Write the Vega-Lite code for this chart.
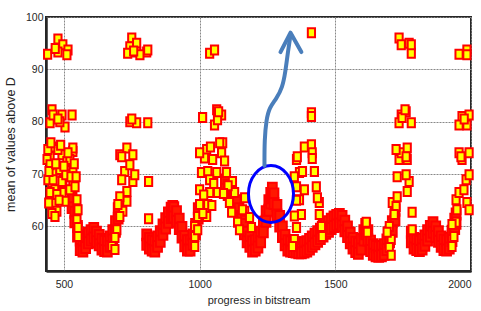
{
"$schema": "https://vega.github.io/schema/vega-lite/v6.json",
"width": 425, "height": 254,
"autosize": {"type": "none"},
"padding": {"left": 46, "top": 17, "right": 10, "bottom": 40},
"background": "white",
"config": {"view": {"stroke": "#262626", "strokeWidth": 2}, "font": "Liberation Sans"},
"layer": [
{"data": {"values": [
{"x":530,"y":65.4},{"x":530,"y":63.6},{"x":540,"y":62.7},{"x":540,"y":60.9},{"x":550,"y":60.0},{"x":550,"y":58.2},{"x":560,"y":57.4},{"x":560,"y":55.6},{"x":570,"y":57.1},{"x":570,"y":55.3},{"x":580,"y":57.8},{"x":580,"y":56.0},{"x":590,"y":58.7},{"x":590,"y":56.9},{"x":600,"y":59.2},{"x":600,"y":57.4},{"x":610,"y":59.6},{"x":610,"y":57.8},{"x":620,"y":58.9},{"x":620,"y":57.1},{"x":630,"y":58.3},{"x":630,"y":56.5},{"x":640,"y":57.5},{"x":640,"y":55.7},{"x":650,"y":57.2},{"x":650,"y":55.4},{"x":660,"y":57.1},{"x":660,"y":55.3},{"x":670,"y":58.0},{"x":670,"y":56.2},{"x":680,"y":59.2},{"x":680,"y":57.4},{"x":690,"y":60.9},{"x":690,"y":59.1},{"x":700,"y":63.4},{"x":700,"y":61.6},
{"x":805,"y":58.4},{"x":805,"y":56.6},{"x":815,"y":57.7},{"x":815,"y":55.9},{"x":825,"y":57.3},{"x":825,"y":55.5},{"x":835,"y":57.1},{"x":835,"y":55.3},{"x":845,"y":58.0},{"x":845,"y":56.2},{"x":855,"y":59.0},{"x":855,"y":57.2},{"x":865,"y":60.3},{"x":865,"y":58.5},{"x":875,"y":61.5},{"x":875,"y":59.7},{"x":885,"y":62.6},{"x":885,"y":60.8},{"x":895,"y":63.5},{"x":895,"y":61.7},{"x":901,"y":63.8},{"x":901,"y":62.0},{"x":905,"y":63.6},{"x":905,"y":61.8},{"x":915,"y":62.8},{"x":915,"y":61.0},{"x":925,"y":61.4},{"x":925,"y":59.6},{"x":935,"y":59.8},{"x":935,"y":58.0},{"x":945,"y":58.1},{"x":945,"y":56.3},{"x":955,"y":57.3},{"x":955,"y":55.5},{"x":965,"y":57.3},{"x":965,"y":55.5},{"x":975,"y":58.4},{"x":975,"y":56.6},{"x":985,"y":60.4},{"x":985,"y":58.6},{"x":995,"y":63.4},{"x":995,"y":61.6},
{"x":1095,"y":68.9},{"x":1095,"y":67.1},{"x":1105,"y":67.9},{"x":1105,"y":66.1},{"x":1115,"y":66.9},{"x":1115,"y":65.1},{"x":1125,"y":65.9},{"x":1125,"y":64.1},{"x":1135,"y":64.9},{"x":1135,"y":63.1},{"x":1145,"y":63.4},{"x":1145,"y":61.6},{"x":1155,"y":61.9},{"x":1155,"y":60.1},{"x":1165,"y":60.4},{"x":1165,"y":58.6},{"x":1175,"y":58.9},{"x":1175,"y":57.1},{"x":1185,"y":58.0},{"x":1185,"y":56.2},{"x":1195,"y":57.1},{"x":1195,"y":55.3},{"x":1205,"y":57.3},{"x":1205,"y":55.5},{"x":1215,"y":57.9},{"x":1215,"y":56.1},{"x":1225,"y":58.9},{"x":1225,"y":57.1},{"x":1235,"y":60.8},{"x":1235,"y":59.0},{"x":1245,"y":62.8},{"x":1245,"y":61.0},{"x":1255,"y":64.9},{"x":1255,"y":63.1},{"x":1262,"y":66.3},{"x":1262,"y":64.5},{"x":1268,"y":67.3},{"x":1268,"y":65.5},{"x":1274,"y":66.2},{"x":1274,"y":64.4},{"x":1285,"y":64.0},{"x":1285,"y":62.2},{"x":1295,"y":61.9},{"x":1295,"y":60.1},{"x":1305,"y":59.9},{"x":1305,"y":58.1},{"x":1315,"y":58.3},{"x":1315,"y":56.5},{"x":1325,"y":57.3},{"x":1325,"y":55.5},
{"x":1335,"y":57.1},{"x":1335,"y":55.3},{"x":1345,"y":57.0},{"x":1345,"y":55.2},{"x":1355,"y":56.9},{"x":1355,"y":55.1},{"x":1365,"y":56.8},{"x":1365,"y":55.0},{"x":1375,"y":56.8},{"x":1375,"y":55.0},{"x":1385,"y":56.9},{"x":1385,"y":55.1},{"x":1395,"y":57.1},{"x":1395,"y":55.3},{"x":1405,"y":57.5},{"x":1405,"y":55.7},{"x":1415,"y":58.0},{"x":1415,"y":56.2},{"x":1425,"y":58.5},{"x":1425,"y":56.7},{"x":1435,"y":59.0},{"x":1435,"y":57.2},{"x":1445,"y":59.5},{"x":1445,"y":57.7},{"x":1455,"y":60.0},{"x":1455,"y":58.2},{"x":1465,"y":60.5},{"x":1465,"y":58.7},{"x":1475,"y":60.9},{"x":1475,"y":59.1},{"x":1485,"y":61.4},{"x":1485,"y":59.6},{"x":1495,"y":61.8},{"x":1495,"y":60.0},{"x":1505,"y":62.1},{"x":1505,"y":60.3},{"x":1515,"y":62.3},{"x":1515,"y":60.5},{"x":1525,"y":61.9},{"x":1525,"y":60.1},{"x":1535,"y":61.0},{"x":1535,"y":59.2},{"x":1545,"y":59.9},{"x":1545,"y":58.1},{"x":1555,"y":58.7},{"x":1555,"y":56.9},{"x":1565,"y":57.7},{"x":1565,"y":55.9},{"x":1575,"y":57.0},{"x":1575,"y":55.2},{"x":1585,"y":56.7},{"x":1585,"y":54.9},{"x":1595,"y":57.5},{"x":1595,"y":55.7},{"x":1605,"y":59.2},{"x":1605,"y":57.4},{"x":1612,"y":60.4},{"x":1612,"y":58.6},{"x":1620,"y":59.2},{"x":1620,"y":57.4},{"x":1630,"y":57.2},{"x":1630,"y":55.4},{"x":1640,"y":56.5},{"x":1640,"y":54.7},{"x":1650,"y":56.2},{"x":1650,"y":54.4},{"x":1660,"y":56.1},{"x":1660,"y":54.3},{"x":1670,"y":56.2},{"x":1670,"y":54.4},{"x":1680,"y":56.5},{"x":1680,"y":54.7},{"x":1690,"y":57.4},{"x":1690,"y":55.6},{"x":1700,"y":58.9},{"x":1700,"y":57.1},{"x":1710,"y":60.9},{"x":1710,"y":59.1},{"x":1720,"y":63.1},{"x":1720,"y":61.3},
{"x":1780,"y":58.9},{"x":1780,"y":57.1},{"x":1790,"y":57.7},{"x":1790,"y":55.9},{"x":1800,"y":57.4},{"x":1800,"y":55.6},{"x":1810,"y":57.2},{"x":1810,"y":55.4},{"x":1820,"y":57.5},{"x":1820,"y":55.7},{"x":1830,"y":58.2},{"x":1830,"y":56.4},{"x":1840,"y":59.2},{"x":1840,"y":57.4},{"x":1850,"y":60.0},{"x":1850,"y":58.2},{"x":1860,"y":60.7},{"x":1860,"y":58.9},{"x":1870,"y":59.9},{"x":1870,"y":58.1},{"x":1880,"y":59.0},{"x":1880,"y":57.2},{"x":1890,"y":58.0},{"x":1890,"y":56.2},{"x":1900,"y":57.4},{"x":1900,"y":55.6},{"x":1910,"y":57.3},{"x":1910,"y":55.5},{"x":1920,"y":57.7},{"x":1920,"y":55.9},{"x":1930,"y":59.1},{"x":1930,"y":57.3},{"x":1940,"y":61.4},{"x":1940,"y":59.6},{"x":1945,"y":62.4},{"x":1945,"y":60.6}
]},
"mark": {"type": "point", "shape": "M-0.8,-1L0.8,-1L0.8,1L-0.8,1Z", "filled": true, "fill": "#FF1800", "stroke": "#FF0000", "strokeWidth": 2, "size": 120, "opacity": 1},
"encoding": {
"x": {"field": "x", "type": "quantitative", "scale": {"domain": [434, 2000], "nice": false, "zero": false},
 "axis": {"values": [500, 1000, 1500, 2000], "format": "d", "grid": true, "gridColor": "#888888", "gridDash": [2, 1], "gridWidth": 1, "ticks": false, "domainColor": "#262626", "domainWidth": 2.5, "labelFont": "Liberation Sans", "labelFontSize": 10.5, "labelColor": "#262626", "labelPadding": 8, "title": "progress in bitstream", "titleFont": "Liberation Sans", "titleFontSize": 11, "titleFontWeight": "normal", "titleColor": "#262626", "titlePadding": 5}},
"y": {"field": "y", "type": "quantitative", "scale": {"domain": [51.5, 100], "nice": false, "zero": false},
 "axis": {"values": [60, 70, 80, 90, 100], "grid": true, "gridColor": "#888888", "gridDash": [2, 1], "gridWidth": 1, "ticks": false, "domainColor": "#262626", "domainWidth": 2.5, "labelFont": "Liberation Sans", "labelFontSize": 10.5, "labelColor": "#262626", "labelPadding": 3, "title": "mean of values above D", "titleFont": "Liberation Sans", "titleFontSize": 12.5, "titleFontWeight": "normal", "titleColor": "#262626", "titlePadding": 8}}
}},
{"data": {"values": [
{"x":440,"y":92.9},{"x":478,"y":95.8},{"x":496,"y":94.7},{"x":515,"y":93.7},{"x":511,"y":92.8},{"x":478,"y":93.3},{"x":468,"y":94.0},
{"x":750,"y":96.0},{"x":743,"y":94.3},{"x":768,"y":95.0},{"x":735,"y":93.1},{"x":768,"y":93.3},{"x":805,"y":93.3},{"x":780,"y":92.8},{"x":809,"y":93.7},{"x":757,"y":93.5},
{"x":1037,"y":93.1},{"x":1055,"y":93.7},{"x":1412,"y":97.0},
{"x":1735,"y":96.0},{"x":1743,"y":94.7},{"x":1772,"y":95.0},{"x":1780,"y":93.1},{"x":1780,"y":94.7},
{"x":1956,"y":92.9},{"x":1985,"y":93.7},{"x":1985,"y":92.8},
{"x":456,"y":82.3},{"x":449,"y":79.8},{"x":493,"y":81.3},{"x":530,"y":81.3},{"x":504,"y":79.0},{"x":485,"y":80.0},{"x":460,"y":81.3},{"x":478,"y":80.5},
{"x":743,"y":80.0},{"x":768,"y":79.8},{"x":809,"y":79.8},{"x":750,"y":80.5},
{"x":1011,"y":80.8},{"x":1063,"y":82.3},{"x":1081,"y":81.3},{"x":1055,"y":79.4},{"x":1066,"y":80.4},{"x":1070,"y":81.9},
{"x":1412,"y":81.7},{"x":1412,"y":81.0},
{"x":1743,"y":81.3},{"x":1761,"y":81.9},{"x":1735,"y":79.8},{"x":1780,"y":79.8},{"x":1746,"y":80.8},{"x":1757,"y":82.3},
{"x":1967,"y":81.0},{"x":1993,"y":81.3},{"x":1956,"y":79.4},{"x":1985,"y":79.4},{"x":1975,"y":80.5},
{"x":460,"y":75.0},{"x":456,"y":75.2},{"x":449,"y":73.3},{"x":493,"y":73.7},{"x":533,"y":74.3},{"x":533,"y":75.0},{"x":511,"y":72.4},{"x":460,"y":70.3},{"x":456,"y":68.4},{"x":467,"y":67.0},{"x":467,"y":64.2},{"x":496,"y":68.9},{"x":493,"y":66.5},{"x":504,"y":64.8},{"x":533,"y":70.3},{"x":533,"y":68.0},{"x":548,"y":65.1},{"x":548,"y":63.2},{"x":548,"y":61.3},{"x":552,"y":59.8},{"x":552,"y":58.1},{"x":438,"y":72.8},{"x":441,"y":68.9},{"x":449,"y":66.5},{"x":460,"y":68.9},{"x":493,"y":68.6},{"x":460,"y":64.6},{"x":474,"y":62.9},{"x":522,"y":67.0},{"x":541,"y":67.6},{"x":552,"y":63.2},{"x":449,"y":71.8},{"x":522,"y":72.8},{"x":515,"y":74.1},{"x":478,"y":74.7},{"x":485,"y":70.9},{"x":507,"y":69.9},{"x":474,"y":66.1},{"x":441,"y":74.7},
{"x":445,"y":70.5},{"x":452,"y":76.0},{"x":470,"y":72.0},{"x":488,"y":75.5},{"x":500,"y":71.5},{"x":526,"y":69.5},{"x":538,"y":72.0},{"x":545,"y":69.5},{"x":456,"y":62.5},{"x":467,"y":61.9},{"x":482,"y":65.0},{"x":444,"y":64.5},
{"x":706,"y":73.7},{"x":732,"y":75.0},{"x":754,"y":73.7},{"x":724,"y":70.5},{"x":754,"y":68.6},{"x":732,"y":66.7},{"x":732,"y":64.8},{"x":717,"y":62.9},{"x":706,"y":61.9},{"x":695,"y":59.4},{"x":677,"y":56.2},{"x":713,"y":68.9},{"x":713,"y":73.3},{"x":706,"y":65.7},{"x":699,"y":64.2},{"x":688,"y":57.9},{"x":688,"y":55.6},{"x":743,"y":71.8},{"x":761,"y":69.9},{"x":812,"y":68.6},{"x":812,"y":61.5},
{"x":1026,"y":74.7},{"x":1018,"y":73.1},{"x":1085,"y":76.0},{"x":1081,"y":74.1},{"x":1048,"y":72.8},{"x":1007,"y":70.3},{"x":1030,"y":70.5},{"x":1063,"y":70.3},{"x":1099,"y":70.3},{"x":1121,"y":68.6},{"x":1129,"y":66.5},{"x":1000,"y":67.0},{"x":1037,"y":66.5},{"x":1066,"y":66.5},{"x":1030,"y":64.2},{"x":1000,"y":64.2},{"x":993,"y":61.9},{"x":1026,"y":61.9},{"x":982,"y":60.0},{"x":982,"y":58.1},{"x":982,"y":56.2},{"x":1110,"y":64.6},{"x":1118,"y":62.7},{"x":1140,"y":60.8},{"x":1166,"y":65.5},{"x":1166,"y":62.9},{"x":1147,"y":59.4},{"x":1000,"y":74.1},{"x":1074,"y":76.0},{"x":993,"y":59.4},{"x":1037,"y":68.9},{"x":1158,"y":63.2},{"x":1184,"y":61.7},{"x":1191,"y":59.8},
{"x":1040,"y":75.2},{"x":1092,"y":72.5},{"x":1105,"y":67.8},{"x":1052,"y":68.2},{"x":1015,"y":66.0},{"x":1088,"y":66.3},{"x":1012,"y":62.5},{"x":1045,"y":64.0},
{"x":1357,"y":72.8},{"x":1386,"y":75.2},{"x":1412,"y":75.6},{"x":1415,"y":74.1},{"x":1368,"y":70.3},{"x":1379,"y":70.5},{"x":1423,"y":70.5},{"x":1357,"y":67.6},{"x":1386,"y":67.0},{"x":1430,"y":67.6},{"x":1368,"y":65.1},{"x":1375,"y":62.3},{"x":1441,"y":64.6},{"x":1441,"y":62.3},{"x":1357,"y":59.8},{"x":1349,"y":57.5},{"x":1342,"y":56.2},{"x":1449,"y":60.0},{"x":1452,"y":58.1},{"x":1360,"y":73.3},{"x":1349,"y":69.5},{"x":1357,"y":65.0},{"x":1349,"y":62.0},{"x":1415,"y":73.0},{"x":1434,"y":65.5},
{"x":1614,"y":60.8},{"x":1618,"y":58.9},
{"x":1710,"y":64.6},{"x":1724,"y":63.8},{"x":1728,"y":65.7},{"x":1717,"y":62.3},{"x":1699,"y":60.0},{"x":1706,"y":57.5},{"x":1699,"y":56.0},{"x":1735,"y":72.8},{"x":1765,"y":72.8},{"x":1728,"y":69.5},{"x":1772,"y":68.6},{"x":1765,"y":66.7},{"x":1761,"y":69.9},{"x":1743,"y":74.1},{"x":1765,"y":75.0},{"x":1783,"y":62.7},{"x":1783,"y":59.4},{"x":1724,"y":74.7},{"x":1761,"y":73.3},{"x":1691,"y":58.9},{"x":1706,"y":54.5},
{"x":1930,"y":57.5},{"x":1945,"y":60.8},{"x":1948,"y":63.2},{"x":1945,"y":65.1},{"x":1956,"y":66.5},{"x":1974,"y":67.0},{"x":1982,"y":68.9},{"x":1967,"y":72.8},{"x":1993,"y":74.1},{"x":1993,"y":69.9},{"x":1985,"y":64.6},{"x":1993,"y":63.2},{"x":1956,"y":74.1},{"x":1963,"y":73.3},{"x":1930,"y":60.4},{"x":1937,"y":58.1},{"x":1930,"y":56.2}
]},
"mark": {"type": "point", "shape": "M-0.8,-1L0.8,-1L0.8,1L-0.8,1Z", "filled": true, "fill": "#FFFF00", "stroke": "#FF0000", "strokeWidth": 2, "size": 81, "opacity": 1},
"encoding": {"x": {"field": "x", "type": "quantitative"}, "y": {"field": "y", "type": "quantitative"}}},
{"data": {"values": [{"x": 1263, "y": 66.2}]},
"mark": {"type": "point", "shape": "M0.79,0C0.79,0.5523 0.4363,1 0,1C-0.4363,1 -0.79,0.5523 -0.79,0C-0.79,-0.5523 -0.4363,-1 0,-1C0.4363,-1 0.79,-0.5523 0.79,0Z", "filled": false, "stroke": "#0000FF", "strokeWidth": 3, "size": 3249, "opacity": 1},
"encoding": {"x": {"field": "x", "type": "quantitative"}, "y": {"field": "y", "type": "quantitative"}}},
{"data": {"values": [
{"o":1,"x":1239,"y":71.6},{"o":2,"x":1239,"y":76.6},{"o":3,"x":1246,"y":80.4},{"o":4,"x":1257,"y":82.7},{"o":5,"x":1283,"y":84.4},{"o":6,"x":1305,"y":86.5},{"o":7,"x":1316,"y":89.5},{"o":8,"x":1324,"y":92.8},{"o":9,"x":1335,"y":96.6}
]},
"mark": {"type": "line", "color": "#4A7EBB", "strokeWidth": 4, "strokeCap": "round", "strokeJoin": "round", "interpolate": "basis"},
"encoding": {"x": {"field": "x", "type": "quantitative"}, "y": {"field": "y", "type": "quantitative"}, "order": {"field": "o"}}},
{"data": {"values": [
{"o":1,"x":1298,"y":93.3},{"o":2,"x":1335,"y":97.0},{"o":3,"x":1375,"y":93.3}
]},
"mark": {"type": "line", "color": "#4A7EBB", "strokeWidth": 4, "strokeCap": "round", "strokeJoin": "round"},
"encoding": {"x": {"field": "x", "type": "quantitative"}, "y": {"field": "y", "type": "quantitative"}, "order": {"field": "o"}}}
]
}
